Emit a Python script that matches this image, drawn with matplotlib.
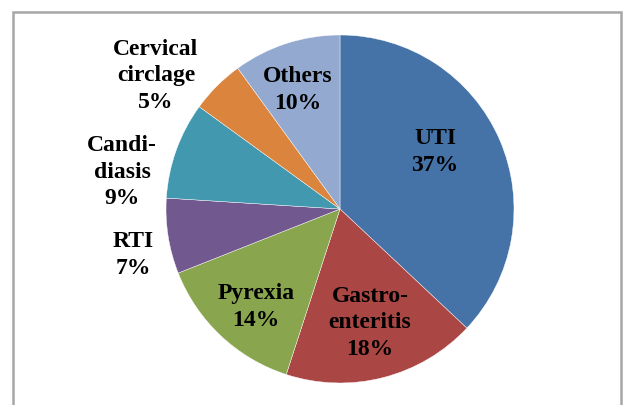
import matplotlib.pyplot as plt
from matplotlib.patches import Rectangle

####################################
#              data                #
####################################
labels = ["UTI", "Gastro-\nenteritis", "Pyrexia", "RTI", "Candi-\ndiasis", "Cervical\ncirclage", "Others"]
values = [37, 18, 14, 7, 9, 5, 10]
colors = ["#4572A7", "#AA4643", "#89A54E", "#71588F", "#4198AF", "#DB843D", "#93A9CF"]

# label centres in pixel coords (x from left, y from top)
label_pos = [(435, 152), (370, 323), (256, 307), (133, 255), (122, 172), (156, 76), (298, 90)]

W, H = 623, 405
center = (340, H - 209)
radius = 174

####################################
#              plot                #
####################################
fig = plt.figure(figsize=(W / 100, H / 100), dpi=100)
ax = fig.add_axes([0, 0, 1, 1])

# values run clockwise from 12 o'clock, like the spreadsheet chart
ax.pie(values, colors=colors, startangle=90, counterclock=False,
       center=center, radius=radius, frame=True,
       wedgeprops=dict(edgecolor="white", linewidth=0.3))
ax.set_xlim(0, W)
ax.set_ylim(0, H)
ax.axis("off")

for lab, val, (px, py) in zip(labels, values, label_pos):
    ax.text(px, H - py, "%s\n%d%%" % (lab, val), ha="center", va="center",
            fontsize=17, fontweight="bold", family="Liberation Serif",
            linespacing=1.32, color="black")

# chart frame, bottom edge falls outside the picture
ax.add_patch(Rectangle((12.5, -10), 608, H - 11.5 + 10, fill=False,
                       edgecolor="#A6A6A6", linewidth=1.8))

fig.savefig("out.png", dpi=100)
